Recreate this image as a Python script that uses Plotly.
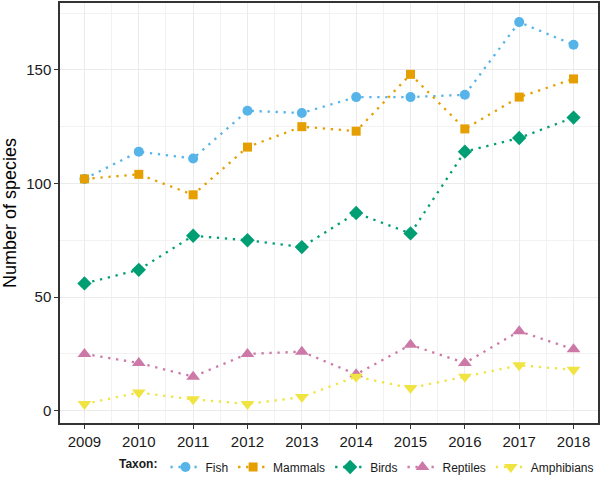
import plotly.graph_objects as go

years = [2009, 2010, 2011, 2012, 2013, 2014, 2015, 2016, 2017, 2018]
fish = [102, 114, 111, 132, 131, 138, 138, 139, 171, 161]
mammals = [102, 104, 95, 116, 125, 123, 148, 124, 138, 146]
birds = [56, 62, 77, 75, 72, 87, 78, 114, 120, 129]
reptiles = [25, 21, 15, 25, 26, 16, 29, 21, 35, 27]
amphibians = [3, 8, 5, 3, 6, 15, 10, 15, 20, 18]

series = [
    ("Fish", fish, "#56B4E9", "circle", 10),
    ("Mammals", mammals, "#E69F00", "square", 9),
    ("Birds", birds, "#009E73", "diamond", 11),
    ("Reptiles", reptiles, "#CC79A7", "triangle-up", 12),
    ("Amphibians", amphibians, "#F0E442", "triangle-down", 12),
]

fig = go.Figure()
for name, vals, col, sym, sz in series:
    fig.add_trace(go.Scatter(
        x=years, y=vals, name=name, mode="lines+markers",
        line=dict(color=col, width=2.3, dash="2.3px,5.7px"),
        marker=dict(color=col, symbol=sym, size=sz),
    ))

fig.update_layout(
    width=602, height=477,
    margin=dict(l=60, r=4, t=3, b=54, autoexpand=False),
    paper_bgcolor="white", plot_bgcolor="white",
    font=dict(family="Liberation Sans, Arial, sans-serif", color="#1a1a1a"),
    showlegend=True,
    legend=dict(
        orientation="h", x=0.995, xanchor="right", xref="container",
        y=0.021, yanchor="middle", yref="container",
        title=dict(text="<b>Taxon:</b>", side="left", font=dict(size=12)),
        font=dict(size=12), tracegroupgap=0, itemwidth=30,
        bgcolor="rgba(0,0,0,0)",
    ),
    xaxis=dict(
        range=[2008.55, 2018.45], tickmode="linear", tick0=2009, dtick=1,
        showgrid=True, gridcolor="#EBEBEB", gridwidth=1.1,
        minor=dict(dtick=0.5, tick0=2009, showgrid=True, gridcolor="#F2F2F2", gridwidth=0.6),
        ticks="outside", ticklen=4, tickcolor="#333333",
        tickfont=dict(size=15, color="#1a1a1a"),
        showline=True, linecolor="#333333", linewidth=1.5, mirror=True,
        zeroline=False, automargin=False,
    ),
    yaxis=dict(
        range=[-5.4, 179.4], tickmode="linear", tick0=0, dtick=50,
        showgrid=True, gridcolor="#EBEBEB", gridwidth=1.1,
        minor=dict(dtick=25, tick0=0, showgrid=True, gridcolor="#F2F2F2", gridwidth=0.6),
        ticks="outside", ticklen=4, tickcolor="#333333",
        tickfont=dict(size=15, color="#1a1a1a"),
        showline=True, linecolor="#333333", linewidth=1.5, mirror=True,
        zeroline=False, automargin=False,
        title=dict(text="Number of species", font=dict(size=18, color="#000000"), standoff=6),
    ),
)

fig.write_html(
    "out.html",
    config={"displayModeBar": False},
    post_script="document.body.style.margin='0';document.body.style.padding='0';",
)
